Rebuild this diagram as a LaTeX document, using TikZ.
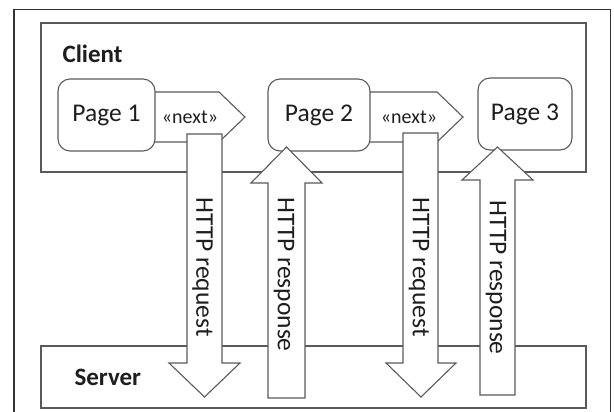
\documentclass[tikz,border=0pt]{standalone}
\usepackage{fontspec}
\setmainfont{Carlito}
\usetikzlibrary{positioning}
\definecolor{linegray}{HTML}{5A5A5A}
\definecolor{framegray}{HTML}{333333}
\definecolor{textdark}{HTML}{1E1E1E}

\begin{document}
\begin{tikzpicture}[x=1pt, y=-1pt, line width=1.1pt,
    layer/.style={draw=linegray, rectangle, minimum width=545pt, inner sep=0pt},
    layerlabel/.style={anchor=base west, inner sep=0pt, text=textdark, font=\bfseries\fontsize{25}{30}\selectfont},
    page/.style={draw=linegray, fill=white, rounded corners=12pt, minimum height=72pt, text=textdark, font=\fontsize{25.5}{30}\selectfont},
    blockarrow/.style={draw=linegray, fill=white, line join=miter},
    nexttext/.style={inner sep=0pt, text=textdark, font=\fontsize{20}{24}\selectfont},
    httptext/.style={rotate=-90, anchor=west, inner sep=0pt, text=textdark, font=\fontsize{25.5}{30}\selectfont}]
    \useasboundingbox (0,0) rectangle (614,412);
    \clip (0,0) rectangle (614,412);
    \draw[framegray, line width=1.8pt] (14,420) -- (14,9.5) -- (610.5,9.5) -- (610.5,420);

    \node (client) [layer, minimum height=149pt] at (313.5,97.5) {};
    \node (server) [layer, minimum height=62pt] at (313.5,377) {};
    \node (clientlabel) [layerlabel] at (62,63) {Client};
    \node (serverlabel) [layerlabel] at (74,385) {Server};

    \draw[blockarrow] (150,92) -- (219,92) -- (245,117) -- (219,142) -- (150,142) -- cycle;
    \draw[blockarrow] (365,92) -- (437,92) -- (463,117) -- (437,142) -- (365,142) -- cycle;
    \node (next1) [nexttext] at (190,117) {«next»};
    \node (next2) [nexttext] at (409,117) {«next»};

    \node (page1) [page, minimum width=97pt] at (106.5,115) {Page 1};
    \node (page2) [page, minimum width=102pt] at (319,115) {Page 2};
    \node (page3) [page, minimum width=94pt] at (525,114) {Page 3};

    \draw[blockarrow] (187,134) -- (222,134) -- (222,363) -- (240,363) -- (204.5,397) -- (169,363) -- (187,363) -- cycle;
    \draw[blockarrow] (268,398) -- (305,398) -- (305,183) -- (322,183) -- (286.5,147) -- (251,183) -- (268,183) -- cycle;
    \draw[blockarrow] (403,133) -- (438,133) -- (438,363) -- (456,363) -- (421,397) -- (386,363) -- (403,363) -- cycle;
    \draw[blockarrow] (480,395) -- (515,395) -- (515,180) -- (533,180) -- (497.5,147) -- (462,180) -- (480,180) -- cycle;

    \node (request1) [httptext] at (202.5,197) {HTTP request};
    \node (response1) [httptext] at (284,197) {HTTP response};
    \node (request2) [httptext] at (419,197) {HTTP request};
    \node (response2) [httptext] at (496,200) {HTTP response};
\end{tikzpicture}
\end{document}
